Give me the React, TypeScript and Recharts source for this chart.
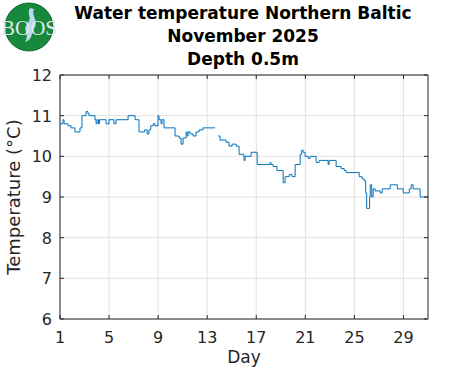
import React from "react";
import {
  LineChart,
  Line,
  XAxis,
  YAxis,
  CartesianGrid,
  ReferenceArea,
} from "recharts";

// day of month (fractional) and temperature at 0.5 m
const days = [
  1.0, 1.24, 1.33, 1.65, 1.9, 2.22, 2.63, 2.79, 3.12, 3.28, 3.37, 3.85, 3.94,
  4.02, 4.14, 4.22, 4.75, 4.99, 5.4, 5.57, 6.55, 7.12, 7.44, 7.9, 8.1, 8.25,
  8.4, 8.6, 8.75, 8.99, 9.07, 9.24, 9.32, 9.48, 10.38, 10.71, 10.87, 11.03,
  11.28, 11.36, 11.44, 11.6, 11.85, 12.09, 12.34, 12.66, 13.64, 13.7, 13.89,
  14.05, 14.54, 14.78, 15.03, 15.36, 15.6, 16.0, 16.09, 16.58, 17.07, 18.13,
  18.2, 18.37, 18.69, 19.19, 19.35, 19.68, 19.92, 20.17, 20.58, 20.7, 20.82,
  20.98, 21.23, 21.39, 21.88, 22.13, 22.86, 22.94, 23.51, 23.92, 24.17, 24.33,
  25.39, 25.63, 25.79, 25.92, 26.0, 26.24, 26.29, 26.41, 26.53, 26.69, 27.1,
  27.26, 27.92, 28.5, 28.98, 29.47, 29.63, 29.79, 30.36, 31.0,
];
const temps: (number | null)[] = [
  10.8, 10.9, 10.8, 10.75, 10.7, 10.6, 10.7, 11.0, 11.1, 11.05, 11.0, 10.9,
  10.8, 10.9, 10.8, 10.9, 10.8, 10.9, 10.8, 10.9, 11.0, 10.9, 10.6, 10.65,
  10.55, 10.65, 10.75, 10.8, 10.75, 11.0, 10.9, 10.8, 10.9, 10.7, 10.5, 10.45,
  10.3, 10.45, 10.6, 10.5, 10.6, 10.55, 10.5, 10.6, 10.65, 10.7, 10.7, null,
  10.5, 10.4, 10.35, 10.25, 10.3, 10.25, 10.05, 9.9, 10.0, 10.1, 9.8, 9.85,
  9.8, 9.75, 9.65, 9.35, 9.5, 9.55, 9.5, 9.8, 10.05, 10.15, 10.1, 10.0, 9.95,
  10.0, 9.85, 9.9, 9.8, 9.9, 9.75, 9.7, 9.65, 9.6, 9.5, 9.45, 9.4, 9.1, 8.72,
  9.0, 9.3, 9.0, 9.2, 9.15, 9.1, 9.2, 9.3, 9.2, 9.1, 9.2, 9.3, 9.2, 9.0, 9.0,
];

const xTicks = [1, 5, 9, 13, 17, 21, 25, 29];
const yTicks = [6, 7, 8, 9, 10, 11, 12];
const titleLines = ["Water temperature Northern Baltic", "November 2025", "Depth 0.5m"];

const data = days.map((d, i) => ({ day: d, temp: temps[i] }));

const W = 471;
const H = 371;
const PLOT_LEFT = 60;
const PLOT_RIGHT = 428;
const PLOT_TOP = 75;
const PLOT_BOTTOM = 319;
const AX = "#262626";
const FONT = "'DejaVu Sans', sans-serif";

const XTick = (props: any) => {
  const { x, payload } = props;
  return (
    <g>
      <line x1={x} x2={x} y1={PLOT_BOTTOM} y2={PLOT_BOTTOM - 4} stroke={AX} />
      <line x1={x} x2={x} y1={PLOT_TOP} y2={PLOT_TOP + 4} stroke={AX} />
      <text x={x} y={343} textAnchor="middle" fontSize={16} fill={AX} fontFamily={FONT}>
        {payload.value}
      </text>
    </g>
  );
};

const YTick = (props: any) => {
  const { y, payload } = props;
  return (
    <g>
      <line x1={PLOT_LEFT} x2={PLOT_LEFT + 4} y1={y} y2={y} stroke={AX} />
      <line x1={PLOT_RIGHT} x2={PLOT_RIGHT - 4} y1={y} y2={y} stroke={AX} />
      <text x={52} y={y + 6} textAnchor="end" fontSize={16} fill={AX} fontFamily={FONT}>
        {payload.value}
      </text>
    </g>
  );
};

export default function App() {
  return (
    <div style={{ position: "absolute", left: 0, top: 0, width: W, height: H, background: "#fff" }}>
      <LineChart
        width={W}
        height={H}
        data={data}
        margin={{ top: PLOT_TOP, right: W - PLOT_RIGHT, bottom: 0, left: 0 }}
      >
        <CartesianGrid stroke="#e2e2e2" horizontalValues={yTicks} verticalValues={xTicks} />
        <XAxis
          dataKey="day"
          type="number"
          domain={[1, 31]}
          ticks={xTicks}
          allowDataOverflow
          axisLine={false}
          tickLine={false}
          height={H - PLOT_BOTTOM}
          tick={<XTick />}
        />
        <YAxis
          type="number"
          domain={[6, 12]}
          ticks={yTicks}
          allowDataOverflow
          axisLine={false}
          tickLine={false}
          width={PLOT_LEFT}
          tick={<YTick />}
        />
        <ReferenceArea
          x1={1}
          x2={31}
          y1={6}
          y2={12}
          fill="none"
          stroke={AX}
          strokeWidth={1}
          ifOverflow="visible"
        />
        <Line
          type="stepAfter"
          dataKey="temp"
          stroke="#0072BD"
          strokeWidth={1}
          dot={false}
          connectNulls={false}
          isAnimationActive={false}
        />
      </LineChart>
      <svg
        width={W}
        height={H}
        style={{ position: "absolute", left: 0, top: 0, pointerEvents: "none" }}
      >
        {/* logo */}
        <circle cx={29} cy={27} r={24} fill="#17893c" stroke="#0e6a2b" strokeWidth={1} />
        <path
          d="M30 8 C26 14 33 18 27 24 C22 30 30 34 25 42 C33 40 31 32 35 27 C38 20 31 15 34 9 Z"
          fill="#b9d7ee"
        />
        <text x={29} y={35} textAnchor="middle" fontSize={21} fontFamily="'Liberation Serif', serif" fill="#dfe6ea">
          BOOS
        </text>
        {/* title */}
        {titleLines.map((t, i) => (
          <text
            key={t}
            x={243}
            y={19 + i * 23}
            textAnchor="middle"
            fontSize={17}
            fontWeight="bold"
            fontFamily={FONT}
            fill="#000"
          >
            {t}
          </text>
        ))}
        <text x={244} y={363} textAnchor="middle" fontSize={17} fill={AX} fontFamily={FONT}>
          Day
        </text>
        <text
          x={20}
          y={197}
          textAnchor="middle"
          fontSize={18}
          fill={AX}
          fontFamily={FONT}
          transform="rotate(-90 20 197)"
        >
          Temperature (°C)
        </text>
      </svg>
    </div>
  );
}
